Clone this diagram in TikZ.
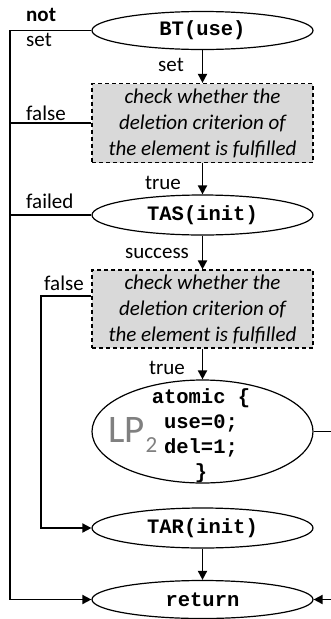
\documentclass[tikz,border=0pt]{standalone}
\usepackage{fontspec}
\setmainfont{Carlito}
\setmonofont{Liberation Mono}
\usetikzlibrary{shapes.geometric,arrows.meta}

\begin{document}
\begin{tikzpicture}[x=1pt,y=-1pt,
  op/.style={ellipse,draw,line width=1.2pt,minimum width=221pt,minimum height=38pt,
    inner sep=0pt,font=\fontsize{20.5}{25}\selectfont\ttfamily\bfseries},
  check/.style={draw,dash pattern=on 4pt off 3pt,line width=1.2pt,fill=black!15,
    minimum width=221pt,minimum height=79pt,inner sep=0pt,align=center,
    font=\fontsize{21}{26}\selectfont\itshape},
  flow/.style={line width=1.8pt,-{Triangle[length=9pt,width=9pt]}},
  link/.style={line width=1.8pt},
  lbl/.style={inner sep=0pt,font=\fontsize{21}{22}\selectfont},
  code/.style={inner sep=0pt,align=center,font=\fontsize{20.5}{25}\selectfont\ttfamily\bfseries}
]
\useasboundingbox (0,0) rectangle (331,619);

% operations and checks along the main path
\node[op] (bt) at (202.5,30.5) {BT(use)};
\node[check] (c1) at (202.5,123) {check whether the\\deletion criterion of\\the element is fulfilled};
\node[op,minimum height=40pt] (tas) at (202.5,215) {TAS(init)};
\node[check,minimum height=78pt] (c2) at (202.5,309) {check whether the\\deletion criterion of\\the element is fulfilled};
\node[op,minimum height=103pt] (atom) at (202.5,431.5) {};
\node[code] (atomtxt) at (201,436) {atomic \{\\use=0;\\del=1;\\\}};
\node[inner sep=0pt,anchor=base west,text=black!50,font=\fontsize{39}{39}\selectfont] (lp) at (108,442)
  {LP\kern1pt\raisebox{-10pt}{\fontsize{23}{23}\selectfont 2}};
\node[op,minimum height=40pt] (tar) at (202.5,528) {TAR(init)};
\node[op] (ret) at (202.5,599.5) {return};

% rails on both sides
\coordinate (lb) at (10,599.5);
\coordinate (k2) at (41,296);
\coordinate (rb) at (334,599.5);

% straight flow
\draw[flow] (bt) -- (c1);
\draw[flow] (c1) -- (tas);
\draw[flow] (tas) -- (c2);
\draw[flow] (c2) -- (atom);
\draw[flow] (tar) -- (ret);

% exits to return
\draw[flow] (bt.west) -- (bt.west -| lb) -- (lb) -- (ret.west);
\draw[link] (c1.west) -- (c1.west -| lb);
\draw[link] (tas.west) -- (tas.west -| lb);
\draw[flow] (c2.west |- k2) -- (k2) |- (tar.west);
\draw[flow] (atom.east) -| (rb) -- (ret.east);

% branch labels
\node[lbl,font=\fontsize{21}{22}\selectfont\bfseries,anchor=west] (lnot) at (26,15) {not};
\node[lbl,anchor=west] (lnotset) at (26,40) {set};
\node[lbl] (lset) at (171,65) {set};
\node[lbl,anchor=west] (lfalse1) at (26,113) {false};
\node[lbl] (ltrue1) at (163,183) {true};
\node[lbl,anchor=west] (lfailed) at (26,201) {failed};
\node[lbl] (lsucc) at (157,253) {success};
\node[lbl] (lfalse2) at (64,283) {false};
\node[lbl] (ltrue2) at (167,368) {true};
\end{tikzpicture}
\end{document}
